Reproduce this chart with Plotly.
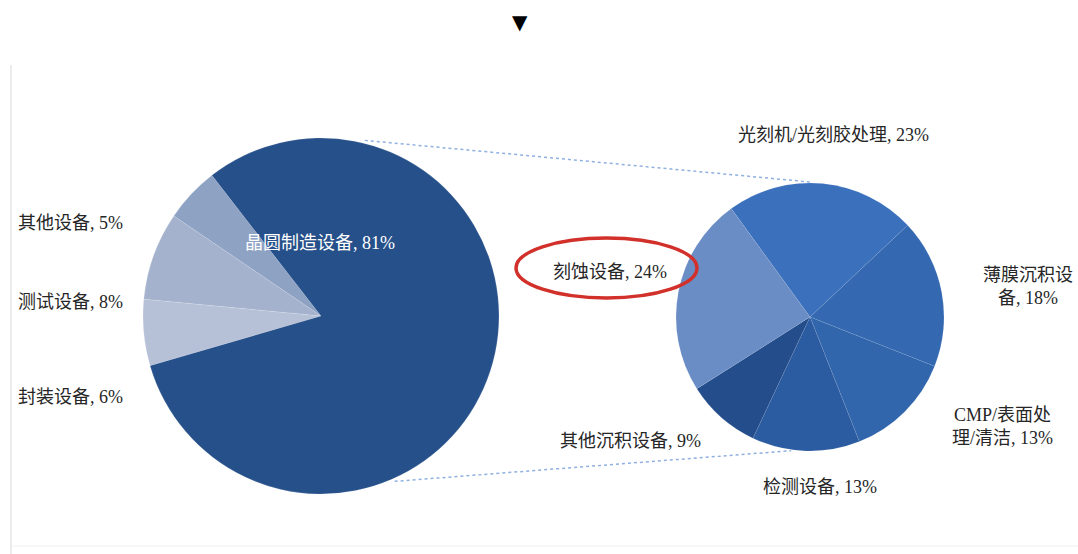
import math
import plotly.graph_objects as go

W, H = 1078, 554

# Equipment split: overall
main_labels = ["其他设备", "测试设备", "封装设备", "晶圆制造设备"]
main_values = [5, 8, 6, 81]
main_colors = ["#8ea2c4", "#a4b2cd", "#b6c1d8", "#26508a"]

# Breakdown of wafer fab equipment
sub_labels = ["光刻机/光刻胶处理", "薄膜沉积设备", "CMP/表面处理/清洁", "检测设备", "其他沉积设备", "刻蚀设备"]
sub_values = [23, 18, 13, 13, 9, 24]
sub_colors = ["#3a70bc", "#3469b2", "#3166ad", "#2b5ba0", "#234d8b", "#6b8dc5"]

# label text lines (line breaks where the label wraps)
sub_label_lines = {
    "薄膜沉积设备": ["薄膜沉积设", "备"],
    "CMP/表面处理/清洁": ["CMP/表面处", "理/清洁"],
}

# pixel geometry of the two pies
L_CX, L_CY, L_R = 321, 316, 178
R_CX, R_CY, R_R = 810, 317, 134


def px(x):
    return x / W


def py(y):
    return 1 - y / H


def dom(cx, cy, r):
    return dict(x=[px(cx - r), px(cx + r)], y=[py(cy + r), py(cy - r)])


fig = go.Figure()
fig.add_trace(go.Pie(
    labels=main_labels, values=main_values, sort=False,
    direction="counterclockwise", rotation=-55.8,
    marker=dict(colors=main_colors, line=dict(color="rgba(255,255,255,0.25)", width=0.5)),
    textinfo="none", hoverinfo="label+percent", showlegend=False,
    domain=dom(L_CX, L_CY, L_R),
))
fig.add_trace(go.Pie(
    labels=sub_labels, values=sub_values, sort=False,
    direction="clockwise", rotation=-36,
    marker=dict(colors=sub_colors, line=dict(color="rgba(255,255,255,0.15)", width=0.5)),
    textinfo="none", hoverinfo="label+percent", showlegend=False,
    domain=dom(R_CX, R_CY, R_R),
))


def label_text(name, val, lines=None):
    pct = f"{val}%"
    if lines:
        return "<br>".join(lines[:-1] + [f"{lines[-1]}, {pct}"])
    return f"{name}, {pct}"


FONT = "Liberation Serif, Noto Sans CJK SC, sans-serif"
FSIZE = 18
annotations = []

# overall pie labels (pixel anchors)
main_pos = {
    "其他设备": (16, 223, "left"),
    "测试设备": (16, 302, "left"),
    "封装设备": (16, 397, "left"),
    "晶圆制造设备": (320, 243, "center"),
}
for name, val in zip(main_labels, main_values):
    x, y, anchor = main_pos[name]
    color = "#ffffff" if name == "晶圆制造设备" else "#262626"
    annotations.append(dict(
        x=px(x), y=py(y), xref="paper", yref="paper", xanchor=anchor, yanchor="middle",
        text=label_text(name, val), showarrow=False,
        font=dict(family=FONT, size=FSIZE, color=color),
    ))

sub_pos = {
    "光刻机/光刻胶处理": (833, 135, "center"),
    "薄膜沉积设备": (1028, 286, "center"),
    "CMP/表面处理/清洁": (1002, 426, "center"),
    "检测设备": (820, 487, "center"),
    "其他沉积设备": (630, 441, "center"),
    "刻蚀设备": (610, 272, "center"),
}
for name, val in zip(sub_labels, sub_values):
    x, y, anchor = sub_pos[name]
    annotations.append(dict(
        x=px(x), y=py(y), xref="paper", yref="paper", xanchor=anchor, yanchor="middle",
        text=label_text(name, val, sub_label_lines.get(name)), showarrow=False,
        align="center",
        font=dict(family=FONT, size=FSIZE, color="#262626"),
    ))

annotations.append(dict(
    x=px(520), y=py(22), xref="paper", yref="paper", xanchor="center", yanchor="middle",
    text="▼", showarrow=False, font=dict(family="DejaVu Sans", size=20, color="#000000"),
))


def on_circle(cx, cy, r, ang):
    a = math.radians(ang)
    return cx + r * math.sin(a), cy - r * math.cos(a)


shapes = []
# connector lines between the pies
for la, ra in [(14, 0), (156, 188)]:
    x0, y0 = on_circle(L_CX, L_CY, L_R + 3, la)
    x1, y1 = on_circle(R_CX, R_CY, R_R + 1, ra)
    shapes.append(dict(
        type="line", xref="paper", yref="paper",
        x0=px(x0), y0=py(y0), x1=px(x1), y1=py(y1),
        line=dict(color="#8fb0e0", width=1.5, dash="dot"),
    ))

# highlight ellipse around the etching label
shapes.append(dict(
    type="circle", xref="paper", yref="paper",
    x0=px(516), x1=px(697), y0=py(298), y1=py(238),
    line=dict(color="#d2302a", width=3.5),
))

# faint frame lines
shapes.append(dict(type="line", xref="paper", yref="paper",
                   x0=px(11), x1=px(11), y0=py(65), y1=py(554),
                   line=dict(color="#e4e4e4", width=1.5)))
shapes.append(dict(type="line", xref="paper", yref="paper",
                   x0=px(11), x1=px(1078), y0=py(546), y1=py(546),
                   line=dict(color="#f0f0f0", width=1)))

fig.update_layout(
    width=W, height=H,
    margin=dict(l=0, r=0, t=0, b=0),
    paper_bgcolor="#ffffff", plot_bgcolor="#ffffff",
    annotations=annotations, shapes=shapes,
)

fig.write_html("out.html")
